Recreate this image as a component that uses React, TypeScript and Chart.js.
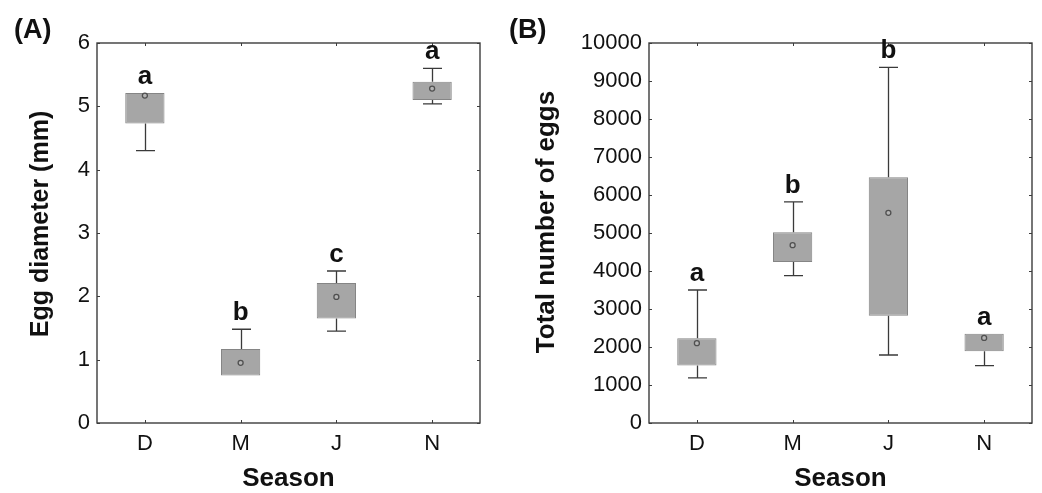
import React, { useEffect, useRef } from "react";
import { Chart, registerables } from "chart.js";

Chart.register(...registerables);

const FONT = "'Liberation Sans', Arial, Helvetica, sans-serif";

const seasons = ["D", "M", "J", "N"];

// Panel A: egg diameter (mm)
const diamBoxLow = [4.73, 0.75, 1.65, 5.1];
const diamBoxHigh = [5.21, 1.17, 2.21, 5.39];
const diamWhiskLow = [4.3, 0.75, 1.45, 5.04];
const diamWhiskHigh = [5.21, 1.48, 2.4, 5.6];
const diamMean = [5.17, 0.95, 1.99, 5.28];
const diamLetters = ["a", "b", "c", "a"];

// Panel B: total number of eggs
const eggsBoxLow = [1510, 4240, 2820, 1890];
const eggsBoxHigh = [2230, 5020, 6470, 2350];
const eggsWhiskLow = [1190, 3880, 1790, 1510];
const eggsWhiskHigh = [3500, 5820, 9360, 2350];
const eggsMean = [2100, 4680, 5530, 2240];
const eggsLetters = ["a", "b", "b", "a"];

type PanelCfg = {
  panel: string;
  boxLow: number[];
  boxHigh: number[];
  whiskLow: number[];
  whiskHigh: number[];
  mean: number[];
  letters: string[];
  yMin: number;
  yMax: number;
  yStep: number;
  yTitle: string;
  yTitleSize: number;
  yTitleX: number;
  yTitleY: number;
  yAxisWidth: number;
  padRight: number;
  panelX: number;
};

function makePlugin(cfg: PanelCfg) {
  return {
    id: "boxExtras",
    beforeDatasetsDraw(chart: any) {
      const { ctx } = chart;
      const x = chart.scales.x;
      const y = chart.scales.y;
      ctx.save();
      ctx.strokeStyle = "#3a3a3a";
      ctx.lineWidth = 1.3;
      const half = 9.5;
      cfg.whiskLow.forEach((lo: number, i: number) => {
        const cx = Math.round(x.getPixelForValue(i)) + 0.5;
        const hi = cfg.whiskHigh[i];
        const bl = cfg.boxLow[i];
        const bh = cfg.boxHigh[i];
        ctx.beginPath();
        if (hi > bh) {
          const py = y.getPixelForValue(hi);
          ctx.moveTo(cx, y.getPixelForValue(bh));
          ctx.lineTo(cx, py);
          ctx.moveTo(cx - half, py);
          ctx.lineTo(cx + half, py);
        }
        if (lo < bl) {
          const py = y.getPixelForValue(lo);
          ctx.moveTo(cx, y.getPixelForValue(bl));
          ctx.lineTo(cx, py);
          ctx.moveTo(cx - half, py);
          ctx.lineTo(cx + half, py);
        }
        ctx.stroke();
      });
      ctx.restore();
    },
    afterDraw(chart: any) {
      const { ctx, chartArea } = chart;
      const x = chart.scales.x;
      const y = chart.scales.y;
      ctx.save();
      // frame
      ctx.strokeStyle = "#3c3c3c";
      ctx.lineWidth = 1.4;
      ctx.strokeRect(chartArea.left, chartArea.top, chartArea.right - chartArea.left, chartArea.bottom - chartArea.top);
      // inner ticks
      ctx.lineWidth = 1;
      ctx.beginPath();
      y.ticks.forEach((t: any) => {
        const py = Math.round(y.getPixelForValue(t.value)) + 0.5;
        ctx.moveTo(chartArea.left, py);
        ctx.lineTo(chartArea.left + 3, py);
        ctx.moveTo(chartArea.right, py);
        ctx.lineTo(chartArea.right - 3, py);
      });
      seasons.forEach((_s, i) => {
        const px = Math.round(x.getPixelForValue(i)) + 0.5;
        ctx.moveTo(px, chartArea.top);
        ctx.lineTo(px, chartArea.top + 3);
        ctx.moveTo(px, chartArea.bottom);
        ctx.lineTo(px, chartArea.bottom - 3);
      });
      ctx.stroke();
      // significance letters
      ctx.fillStyle = "#111";
      ctx.font = `bold 26px ${FONT}`;
      ctx.textAlign = "center";
      ctx.textBaseline = "alphabetic";
      cfg.letters.forEach((l: string, i: number) => {
        const px = x.getPixelForValue(i);
        const top = Math.max(cfg.whiskHigh[i], cfg.boxHigh[i]);
        ctx.fillText(l, px, y.getPixelForValue(top) - 9);
      });
      // y-axis title
      ctx.save();
      ctx.translate(cfg.yTitleX, cfg.yTitleY);
      ctx.rotate(-Math.PI / 2);
      ctx.textAlign = "center";
      ctx.textBaseline = "middle";
      ctx.font = `bold ${cfg.yTitleSize}px ${FONT}`;
      ctx.fillText(cfg.yTitle, 0, 0);
      ctx.restore();
      // panel label
      ctx.textAlign = "left";
      ctx.textBaseline = "middle";
      ctx.font = `bold 27px ${FONT}`;
      ctx.fillText(cfg.panel, cfg.panelX, 31);
      ctx.restore();
    },
  };
}

function Panel({ cfg, left, width }: { cfg: PanelCfg; left: number; width: number }) {
  const ref = useRef<HTMLCanvasElement | null>(null);
  useEffect(() => {
    if (!ref.current) return;
    const chart = new Chart(ref.current, {
      type: "bar",
      data: {
        labels: seasons,
        datasets: [
          {
            type: "bar",
            data: cfg.boxLow.map((l, i) => [l, cfg.boxHigh[i]]) as any,
            backgroundColor: "#a6a6a6",
            borderColor: "#858585",
            borderWidth: 1,
            borderSkipped: false,
            barPercentage: 0.41,
            categoryPercentage: 1,
            order: 2,
          } as any,
          {
            type: "line",
            data: cfg.mean,
            showLine: false,
            pointRadius: 2.5,
            pointBorderWidth: 1.3,
            pointBorderColor: "#505050",
            pointBackgroundColor: "#b4b4b4",
            order: 1,
          } as any,
        ],
      },
      options: {
        animation: false,
        responsive: false,
        maintainAspectRatio: false,
        events: [],
        layout: { padding: { top: 43, right: cfg.padRight, bottom: 0, left: 0 } },
        plugins: { legend: { display: false }, tooltip: { enabled: false } },
        scales: {
          x: {
            grid: { display: false, drawTicks: false },
            border: { display: false },
            ticks: { color: "#111", font: { family: FONT, size: 22 }, padding: 8 },
            title: {
              display: true,
              text: "Season",
              color: "#111",
              font: { family: FONT, size: 26, weight: "bold", lineHeight: 1 },
              padding: { top: 0, bottom: 1 },
            },
            afterFit: (s: any) => {
              s.height = 70;
            },
          },
          y: {
            min: cfg.yMin,
            max: cfg.yMax,
            grid: { display: false, drawTicks: false },
            border: { display: false },
            ticks: {
              stepSize: cfg.yStep,
              color: "#111",
              font: { family: FONT, size: 22 },
              padding: 7,
              callback: (v: any) => String(v),
            },
            afterFit: (s: any) => {
              s.width = cfg.yAxisWidth;
            },
          },
        },
      } as any,
      plugins: [makePlugin(cfg)],
    });
    return () => chart.destroy();
  }, []);
  return (
    <canvas
      ref={ref}
      width={width}
      height={493}
      style={{ position: "absolute", left, top: 0, width, height: 493 }}
    />
  );
}

const cfgA: PanelCfg = {
  panel: "(A)",
  boxLow: diamBoxLow,
  boxHigh: diamBoxHigh,
  whiskLow: diamWhiskLow,
  whiskHigh: diamWhiskHigh,
  mean: diamMean,
  letters: diamLetters,
  yMin: 0,
  yMax: 6,
  yStep: 1,
  yTitle: "Egg diameter (mm)",
  yTitleSize: 25,
  yTitleX: 41,
  yTitleY: 224,
  yAxisWidth: 97,
  padRight: 20,
  panelX: 14,
};

const cfgB: PanelCfg = {
  panel: "(B)",
  boxLow: eggsBoxLow,
  boxHigh: eggsBoxHigh,
  whiskLow: eggsWhiskLow,
  whiskHigh: eggsWhiskHigh,
  mean: eggsMean,
  letters: eggsLetters,
  yMin: 0,
  yMax: 10000,
  yStep: 1000,
  yTitle: "Total number of eggs",
  yTitleSize: 26,
  yTitleX: 47,
  yTitleY: 222,
  yAxisWidth: 149,
  padRight: 10,
  panelX: 9,
};

export default function App() {
  return (
    <div style={{ position: "fixed", left: 0, top: 0, width: 1042, height: 493, background: "#fff", overflow: "hidden" }}>
      <Panel cfg={cfgA} left={0} width={500} />
      <Panel cfg={cfgB} left={500} width={542} />
    </div>
  );
}
